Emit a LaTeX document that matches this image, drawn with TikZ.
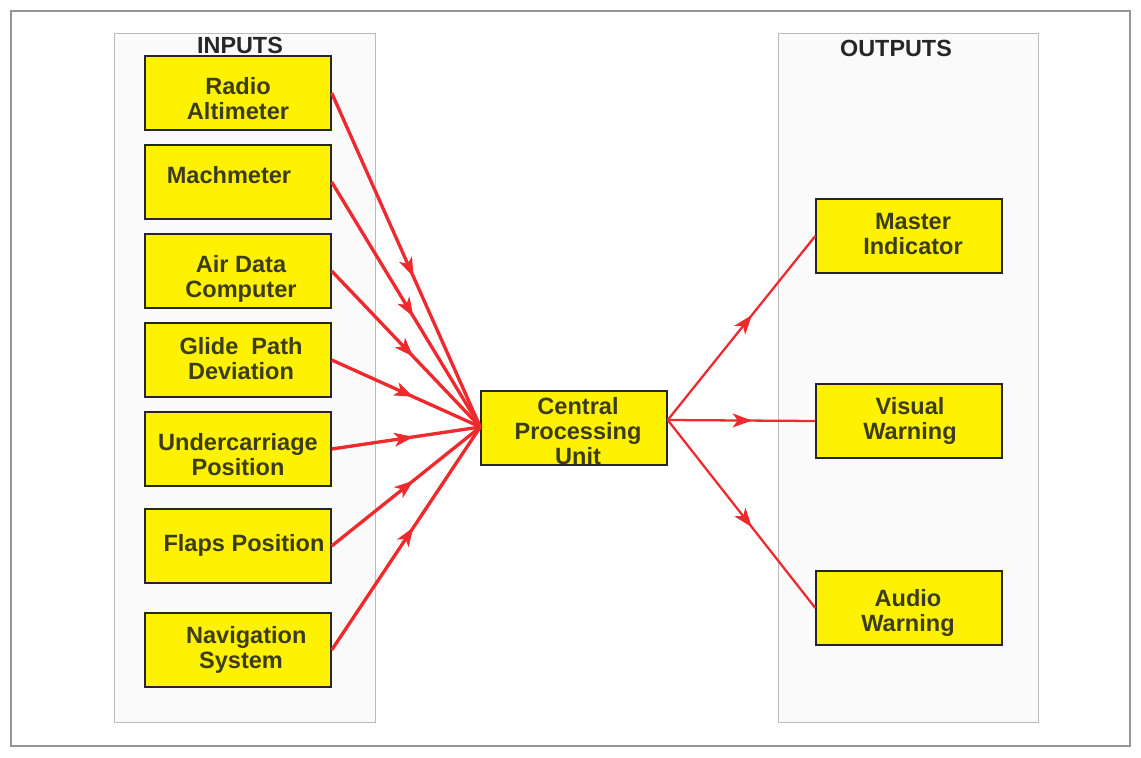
\documentclass[tikz,border=0pt]{standalone}
\usepackage{fontspec}
\setmainfont{Liberation Sans}
\usetikzlibrary{arrows.meta,decorations.markings}
\definecolor{boxyellow}{HTML}{FFF200}
\definecolor{linered}{HTML}{EE2A2E}
\definecolor{txt}{HTML}{3C3C18}
\definecolor{panelfill}{HTML}{FAFAFA}
\definecolor{panelline}{HTML}{BBBBBB}
\tikzset{
  blk/.style={draw=black!85, line width=0.8pt, fill=boxyellow, minimum width=186*0.02cm, minimum height=74*0.02cm, inner sep=0pt},
  tl/.style={inner sep=0pt, align=center, font=\bfseries\fontsize{13.4}{14.2}\selectfont, text=txt},
  panel/.style={draw=panelline, fill=panelfill, line width=0.5pt},
  ttl/.style={font=\bfseries\fontsize{13.3}{14}\selectfont, text=black!85},
  inarrow/.style={draw=linered, line width=1.9pt, postaction={decorate}, decoration={markings, mark=at position 0.55 with {\arrow[line width=0.6pt]{Stealth[length=11pt,width=8pt,inset=3pt]}}}},
  outarrow/.style={draw=linered, line width=1.3pt, postaction={decorate}, decoration={markings, mark=at position 0.57 with {\arrow[line width=0.6pt]{Stealth[length=11pt,width=8pt,inset=3pt]}}}},
}
\begin{document}
\begin{tikzpicture}[x=0.02cm, y=-0.02cm]
\useasboundingbox (0,0) rectangle (1141,757);
\draw[panelline!80!black, line width=0.6pt] (11,11) rectangle (1130,746);
\draw[panel] (114,33) rectangle (375,722);
\draw[panel] (778,33) rectangle (1038,722);
\node[ttl] (tin) at (240,45) {INPUTS};
\node[ttl] (tout) at (896,48) {OUTPUTS};
% inputs
\node[blk, label={[tl, name=ra-t, shift={(0,6)}]center:{Radio\\Altimeter}}] (ra) at (238,93) {};
\node[blk, label={[tl, name=mm-t, shift={(-9,-7)}]center:{Machmeter}}] (mm) at (238,182) {};
\node[blk, label={[tl, name=adc-t, shift={(3,8)}]center:{Air Data\\Computer}}] (adc) at (238,271) {};
\node[blk, label={[tl, name=gp-t, shift={(3,-1)}]center:{Glide~ Path\\Deviation}}] (gp) at (238,360) {};
\node[blk, label={[tl, name=uc-t, shift={(0,6)}]center:{Undercarriage\\Position}}] (uc) at (238,449) {};
\node[blk, label={[tl, name=fp-t, shift={(6,-1)}]center:{Flaps Position}}] (fp) at (238,546) {};
\node[blk, label={[tl, name=ns-t, shift={(3,0)}]center:{\hspace{6pt}Navigation\\System}}] (ns) at (238,650) {};
% cpu
\node[blk, label={[tl, name=cpu-t, shift={(4,3)}]center:{Central\\Processing\\Unit}}] (cpu) at (574,428) {};
% outputs
\node[blk, label={[tl, name=mi-t, shift={(4,-2)}]center:{Master\\Indicator}}] (mi) at (909,236) {};
\node[blk, label={[tl, name=vw-t, shift={(1,0)}]center:{Visual\\Warning}}] (vw) at (909,421) {};
\node[blk, label={[tl, name=aw-t, shift={(-1,5)}]center:{Audio\\Warning}}] (aw) at (909,608) {};
\coordinate (cin) at ([yshift=1*0.02cm]cpu.west);
\coordinate (cout) at ([yshift=8*0.02cm]cpu.east);
\foreach \n in {ra,mm,adc,gp,uc,fp,ns}{
  \path[inarrow] (\n.east) -- (cin);
}
\path[outarrow] (cout) -- (mi.west);
\path[outarrow] (cout) -- (vw.west);
\path[outarrow] (cout) -- (aw.west);
\end{tikzpicture}
\end{document}
